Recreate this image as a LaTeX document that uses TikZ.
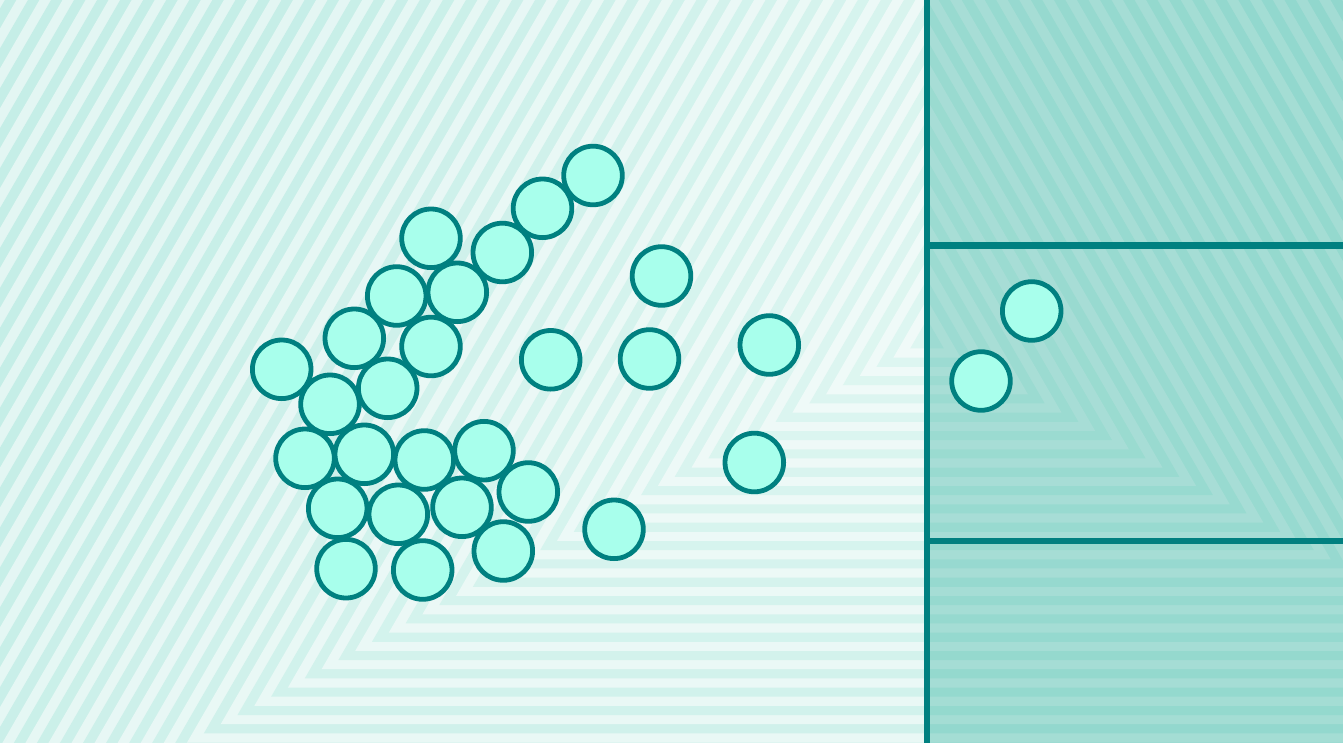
\documentclass[tikz,border=0pt]{standalone}
\usetikzlibrary{calc}
\definecolor{lightNear}{HTML}{F0FAF8}
\definecolor{lightFar}{HTML}{E3F6F3}
\definecolor{darkNear}{HTML}{DEF6F1}
\definecolor{darkFar}{HTML}{C5EEE7}
\definecolor{panelcol}{RGB}{20,165,145}
\definecolor{tealline}{HTML}{008080}
\definecolor{dotfill}{HTML}{A8FFEC}
\tikzset{
  dot/.style={circle, draw=tealline, fill=dotfill, line width=4.8pt, minimum size=58.6pt, inner sep=0pt},
  rule/.style={draw=tealline, line width=6.2pt}
}
\begin{document}
\begin{tikzpicture}[x=1pt,y=-1pt]
\useasboundingbox (0,0) rectangle (1343,743);
\begin{scope}
\clip (0,0) rectangle (1343,743);
\foreach \n in {100,99,...,1}{
  \pgfmathsetmacro\s{\n*9.165}
  \pgfmathtruncatemacro\t{min(100,\n*100/75)}
  \ifodd\n \colorlet{cc}{darkFar!\t!darkNear}\else\colorlet{cc}{lightFar!\t!lightNear}\fi
  \fill[cc] (927-1.835*\s, 339.3+\s) -- (927+1.835*\s, 339.3+\s) -- (927, 339.3-2.178*\s) -- cycle;
}
\fill[panelcol, opacity=0.32] (927,0) rectangle (1343,743);
\end{scope}
% panel rules
\coordinate (vt) at (927,-5);
\coordinate (vb) at (927,748);
\coordinate (h1l) at (927,245.5);
\coordinate (h1r) at (1348,245.5);
\coordinate (h2l) at (927,541);
\coordinate (h2r) at (1348,541);
\draw[rule] (h1l) -- (h1r);
\draw[rule] (h2l) -- (h2r);
\draw[rule] (vt) -- (vb);
% points
\node[dot] (p1) at (593,175.5) {};
\node[dot] (p2) at (542.5,208.3) {};
\node[dot] (p3) at (431,238.3) {};
\node[dot] (p4) at (502.3,252.5) {};
\node[dot] (p5) at (661.5,276) {};
\node[dot] (p6) at (396.7,296) {};
\node[dot] (p7) at (457.3,292.3) {};
\node[dot] (p8) at (354.3,338.3) {};
\node[dot] (p9) at (431,346.5) {};
\node[dot] (p10) at (281.7,369.3) {};
\node[dot] (p11) at (550.7,359.8) {};
\node[dot] (p12) at (649.5,359) {};
\node[dot] (p13) at (769.3,345) {};
\node[dot] (p14) at (330,404.3) {};
\node[dot] (p15) at (387.7,388.3) {};
\node[dot] (p16) at (305,458.3) {};
\node[dot] (p17) at (364.3,454.3) {};
\node[dot] (p18) at (424.3,460) {};
\node[dot] (p19) at (484,450.7) {};
\node[dot] (p20) at (528.3,492) {};
\node[dot] (p21) at (337.7,508.3) {};
\node[dot] (p22) at (398.3,514.3) {};
\node[dot] (p23) at (462,507.3) {};
\node[dot] (p24) at (754.3,462.5) {};
\node[dot] (p25) at (614,529.3) {};
\node[dot] (p26) at (346,568.7) {};
\node[dot] (p27) at (422.7,570) {};
\node[dot] (p28) at (503.3,551) {};
\node[dot] (p29) at (1031.7,311) {};
\node[dot] (p30) at (981,381) {};
\end{tikzpicture}
\end{document}
